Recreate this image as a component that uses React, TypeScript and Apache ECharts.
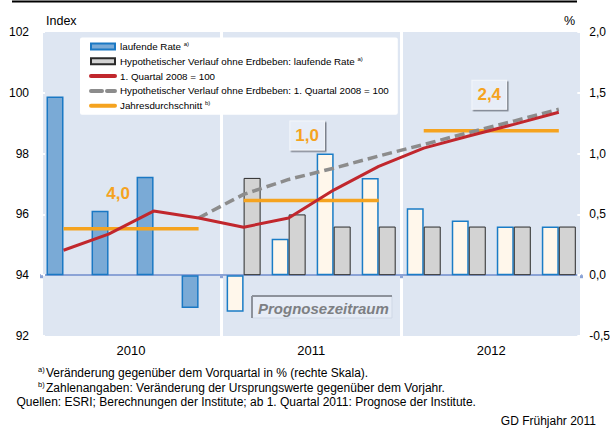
import React, { useEffect, useRef } from 'react';
import * as echarts from 'echarts';

const FONT = '"Liberation Sans", Arial, Helvetica, sans-serif';

// Categories
const quarters = ['I/2010', 'II/2010', 'III/2010', 'IV/2010', 'I/2011', 'II/2011', 'III/2011', 'IV/2011', 'I/2012', 'II/2012', 'III/2012', 'IV/2012'];
const years = ['2010', '2011', '2012'];

// Bars: quarterly change in % (right axis)
const rate = [1.47, 0.53, 0.81, -0.27, -0.3, 0.3, 1.0, 0.8, 0.55, 0.45, 0.4, 0.4];
const hypoRate = [null, null, null, null, 0.8, 0.5, 0.4, 0.4, 0.4, 0.4, 0.4, 0.4];

// Lines: index 1. Quartal 2008 = 100 (left axis)
const indexLevel = [94.82, 95.35, 96.11, 95.88, 95.58, 95.88, 96.8, 97.58, 98.18, 98.58, 98.96, 99.36];
const hypoIndex = [null, null, null, 95.88, 96.66, 97.15, 97.52, 97.92, 98.3, 98.69, 99.07, 99.46];

// Annual averages (index level) and their labels
const annualAvg = [95.53, 96.46, 98.75];
const annualLabels = ['4,0', '1,0', '2,4'];
const forecastStart = 4; // index of first forecast quarter

const NAME_RATE = 'laufende Rate';
const NAME_HRATE = 'Hypothetischer Verlauf ohne Erdbeben: laufende Rate';
const NAME_IDX = '1. Quartal 2008 = 100';
const NAME_HIDX = 'Hypothetischer Verlauf ohne Erdbeben: 1. Quartal 2008 = 100';
const NAME_AVG = 'Jahresdurchschnitt';
const sups: Record<string, string> = { [NAME_RATE]: 'a)', [NAME_HRATE]: 'a)', [NAME_AVG]: 'b)' };

const ORANGE = '#f5a31f';
const RED = '#c1272d';
const GREY = '#8c8c8c';

function buildOption() {
  const labelOffsets: [number, number][] = [[9.5, -35.5], [18.5, -65], [20.5, -36]];
  const avgSeries = annualAvg.map((avg, k) => {
    const boxed = k > 0;
    return {
      name: NAME_AVG,
      type: 'line',
      xAxisIndex: 0,
      yAxisIndex: 0,
      symbol: 'none',
      z: 3,
      lineStyle: { color: ORANGE, width: 3.5 },
      itemStyle: { color: ORANGE },
      data: quarters.map((_, i) => (Math.floor(i / 4) === k ? avg : null)),
      markPoint: {
        symbol: 'circle',
        symbolSize: 1,
        silent: true,
        itemStyle: { color: 'rgba(0,0,0,0)' },
        label: {
          show: true,
          position: 'inside',
          formatter: annualLabels[k],
          offset: labelOffsets[k],
          color: ORANGE,
          fontFamily: FONT,
          fontWeight: 'bold',
          fontSize: 17,
          lineHeight: 19,
          ...(boxed
            ? {
                backgroundColor: '#e7edf7',
                padding: [5, 5, 4, 5],
                borderColor: '#f3f6fb',
                borderWidth: 1,
                shadowColor: 'rgba(90,95,105,0.75)',
                shadowOffsetX: 1.5,
                shadowOffsetY: 1.5,
                shadowBlur: 0,
              }
            : {}),
        },
        data: [{ coord: [quarters[k * 4 + 1], avg], value: avg }],
      },
    };
  });

  const hideSym = { opacity: 0 };

  return {
    animation: false,
    textStyle: { fontFamily: FONT },
    grid: { left: 41, right: 31, top: 32, bottom: 93, show: true, backgroundColor: '#dee6f2', borderWidth: 0 },
    legend: {
      show: true,
      orient: 'vertical',
      left: 80,
      top: 37.5,
      backgroundColor: '#ffffff',
      borderRadius: 2,
      padding: [3.5, 9, 3.5, 9],
      itemGap: 3.8,
      itemWidth: 24,
      itemHeight: 6,
      selectedMode: false,
      data: [
        { name: NAME_RATE, icon: 'rect' },
        { name: NAME_HRATE, icon: 'rect' },
        { name: NAME_IDX, itemStyle: hideSym, lineStyle: { color: RED, width: 4, cap: 'round' } },
        { name: NAME_HIDX, itemStyle: hideSym, lineStyle: { color: GREY, width: 4, type: [11, 5], cap: 'round' } },
        { name: NAME_AVG, itemStyle: hideSym, lineStyle: { color: ORANGE, width: 4, cap: 'round' } },
      ],
      formatter: (name: string) => (sups[name] ? `${name} {s|${sups[name]}}` : name),
      textStyle: {
        fontFamily: FONT,
        fontSize: 9.8,
        color: '#000',
        lineHeight: 11,
        rich: { s: { fontSize: 6, lineHeight: 11, verticalAlign: 'top', fontFamily: FONT, color: '#000' } },
      },
    },
    xAxis: [
      {
        type: 'category',
        data: quarters,
        boundaryGap: true,
        axisLine: { show: true, onZero: true, onZeroAxisIndex: 1, lineStyle: { color: '#8ba3d6', width: 2 } },
        axisTick: { show: true, interval: 3, length: 3, lineStyle: { color: '#8ba3d6', width: 3 } },
        axisLabel: { show: false },
        splitLine: { show: false },
      },
      {
        type: 'category',
        data: years,
        position: 'bottom',
        boundaryGap: true,
        axisLine: { show: false, onZero: false },
        axisTick: { show: false },
        axisLabel: { show: true, margin: 8, fontSize: 13, color: '#000', fontFamily: FONT },
        splitLine: { show: true, lineStyle: { color: '#ffffff', width: 3 } },
      },
    ],
    yAxis: [
      {
        type: 'value',
        position: 'left',
        min: 92,
        max: 102,
        interval: 2,
        axisLine: { show: false },
        axisTick: { show: true, inside: true, length: 4, lineStyle: { color: '#ffffff', width: 2 } },
        axisLabel: { margin: 12, fontSize: 12, color: '#000', fontFamily: FONT },
        splitLine: { show: false },
      },
      {
        type: 'value',
        position: 'right',
        min: -0.5,
        max: 2,
        interval: 0.5,
        axisLine: { show: false },
        axisTick: { show: true, inside: true, length: 4, lineStyle: { color: '#ffffff', width: 2 } },
        axisLabel: {
          margin: 8,
          fontSize: 12,
          color: '#000',
          fontFamily: FONT,
          formatter: (v: number) => v.toFixed(1).replace('.', ','),
        },
        splitLine: { show: false },
      },
    ],
    series: [
      {
        name: NAME_RATE,
        type: 'bar',
        xAxisIndex: 0,
        yAxisIndex: 1,
        barWidth: 17,
        barGap: '0%',
        z: 2,
        itemStyle: { color: '#7aaad6', borderColor: '#1a78c4', borderWidth: 1.5 },
        data: rate.map((v, i) =>
          i >= forecastStart
            ? { value: v, itemStyle: { color: '#fff7eb', borderColor: '#1a7cc6', borderWidth: 1.5 } }
            : v
        ),
      },
      {
        name: NAME_HRATE,
        type: 'bar',
        xAxisIndex: 0,
        yAxisIndex: 1,
        barWidth: 17,
        barGap: '0%',
        z: 2,
        itemStyle: { color: '#d3d3d3', borderColor: '#2a2a2a', borderWidth: 1 },
        data: hypoRate,
      },
      ...avgSeries,
      {
        name: NAME_HIDX,
        type: 'line',
        xAxisIndex: 0,
        yAxisIndex: 0,
        symbol: 'none',
        z: 4,
        lineStyle: { color: GREY, width: 3.5, type: [10, 5] },
        itemStyle: { color: GREY },
        data: hypoIndex,
      },
      {
        name: NAME_IDX,
        type: 'line',
        xAxisIndex: 0,
        yAxisIndex: 0,
        symbol: 'none',
        z: 5,
        lineStyle: { color: RED, width: 3 },
        itemStyle: { color: RED },
        data: indexLevel,
      },
    ],
    graphic: [
      { type: 'line', shape: { x1: 12, y1: 1.5, x2: 577, y2: 1.5 }, style: { stroke: '#000', lineWidth: 2 }, silent: true },
      { type: 'text', x: 46, y: 21, style: { text: 'Index', font: `12.5px ${FONT}`, fill: '#000', textAlign: 'left', textVerticalAlign: 'middle' } },
      { type: 'text', x: 575, y: 21, style: { text: '%', font: `12.5px ${FONT}`, fill: '#000', textAlign: 'right', textVerticalAlign: 'middle' } },
      {
        type: 'group',
        x: 252,
        y: 296,
        z: 10,
        children: [
          { type: 'rect', shape: { x: 0, y: 0, width: 140, height: 22 }, style: { fill: '#e6ecf6', stroke: '#cfd8e6', lineWidth: 1 } },
          { type: 'line', shape: { x1: 0, y1: 0, x2: 140, y2: 0 }, style: { stroke: '#8d929b', lineWidth: 2 } },
          { type: 'line', shape: { x1: 0, y1: 0, x2: 0, y2: 22 }, style: { stroke: '#8d929b', lineWidth: 2 } },
          {
            type: 'text',
            x: 6,
            y: 12,
            style: { text: 'Prognosezeitraum', font: `italic bold 15px ${FONT}`, fill: '#7d7f83', textAlign: 'left', textVerticalAlign: 'middle' },
          },
        ],
      },
      { type: 'text', x: 38, y: 369, style: { text: 'a)', font: `7.5px ${FONT}`, fill: '#000', textAlign: 'left', textVerticalAlign: 'middle' } },
      { type: 'text', x: 46, y: 372.5, style: { text: 'Veränderung gegenüber dem Vorquartal in % (rechte Skala).', font: `12px ${FONT}`, fill: '#000', textAlign: 'left', textVerticalAlign: 'middle' } },
      { type: 'text', x: 38, y: 384, style: { text: 'b)', font: `7.5px ${FONT}`, fill: '#000', textAlign: 'left', textVerticalAlign: 'middle' } },
      { type: 'text', x: 46, y: 387.5, style: { text: 'Zahlenangaben: Veränderung der Ursprungswerte gegenüber dem Vorjahr.', font: `12px ${FONT}`, fill: '#000', textAlign: 'left', textVerticalAlign: 'middle' } },
      { type: 'text', x: 16.5, y: 402, style: { text: 'Quellen: ESRI; Berechnungen der Institute; ab 1. Quartal 2011: Prognose der Institute.', font: `12px ${FONT}`, fill: '#000', textAlign: 'left', textVerticalAlign: 'middle' } },
      { type: 'text', x: 596, y: 421, style: { text: 'GD Frühjahr 2011', font: `12px ${FONT}`, fill: '#000', textAlign: 'right', textVerticalAlign: 'middle' } },
    ],
  };
}

export default function App() {
  const ref = useRef<HTMLDivElement>(null);
  useEffect(() => {
    if (!ref.current) return;
    const chart = echarts.init(ref.current, null, { renderer: 'svg' });
    chart.setOption(buildOption() as any);
    return () => chart.dispose();
  }, []);
  return (
    <div
      ref={ref}
      style={{ position: 'fixed', left: 0, top: 0, width: 613, height: 429, background: '#ffffff' }}
    />
  );
}
